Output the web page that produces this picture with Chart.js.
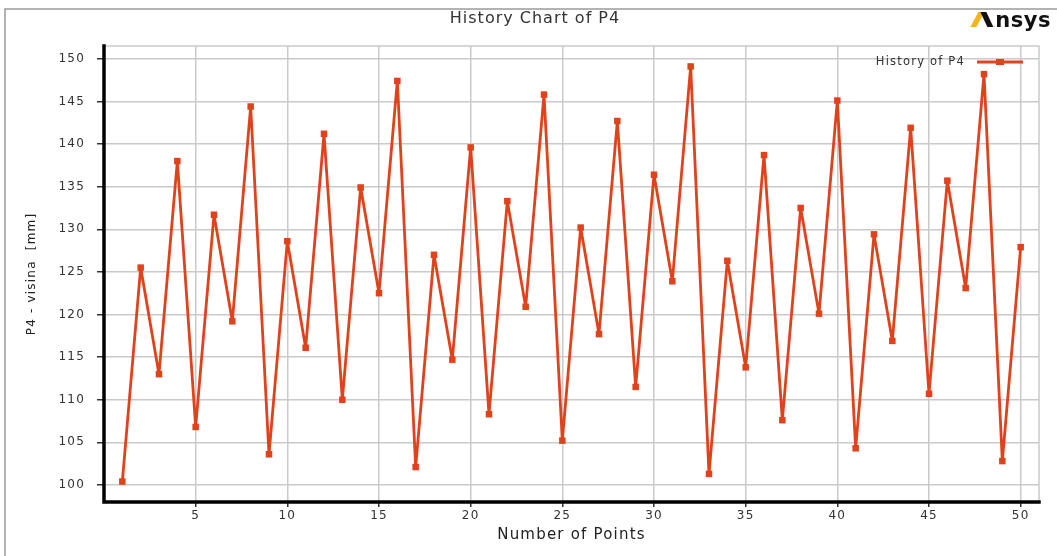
<!DOCTYPE html>
<html>
<head>
<meta charset="utf-8">
<script src="https://cdn.jsdelivr.net/npm/chart.js@4.4.1/dist/chart.umd.min.js"></script>
<style>
  html, body { margin: 0; padding: 0; background: #fff; }
  #wrap { position: relative; width: 1057px; height: 556px; }
</style>
</head>
<body>
<div id="wrap"><canvas id="historyChart"></canvas></div>
<script>
const points = [1, 2, 3, 4, 5, 6, 7, 8, 9, 10, 11, 12, 13, 14, 15, 16, 17, 18, 19, 20,
  21, 22, 23, 24, 25, 26, 27, 28, 29, 30, 31, 32, 33, 34, 35, 36, 37, 38, 39, 40,
  41, 42, 43, 44, 45, 46, 47, 48, 49, 50];
const p4Values = [100.4, 125.5, 113.0, 138.0, 106.8, 131.7, 119.2, 144.4, 103.6, 128.6,
  116.1, 141.2, 110.0, 134.9, 122.5, 147.4, 102.1, 127.0, 114.7, 139.6,
  108.3, 133.3, 120.9, 145.8, 105.2, 130.2, 117.7, 142.7, 111.5, 136.4,
  123.9, 149.1, 101.3, 126.3, 113.8, 138.7, 107.6, 132.5, 120.1, 145.1,
  104.3, 129.4, 116.9, 141.9, 110.7, 135.7, 123.1, 148.2, 102.8, 127.9];
const xTicks = [5, 10, 15, 20, 25, 30, 35, 40, 45, 50];
const yTicks = [100, 105, 110, 115, 120, 125, 130, 135, 140, 145, 150];

const lineColor = '#e0421b';
const gridColor = '#cacaca';
const tickFont = { family: 'DejaVu Sans', size: 12 };

// the reference text is drawn a bit wide, so space the letters out
const spacing = {
  id: 'spacing',
  beforeUpdate(chart) { chart.ctx.letterSpacing = '1.2px'; },
  beforeDraw(chart) { chart.ctx.letterSpacing = '1.2px'; },
};

// frame, title, logo, legend, axis lines and the grey plot border
const decorations = {
  id: 'decorations',
  beforeDraw(chart) {
    const ctx = chart.ctx;
    ctx.save();
    ctx.fillStyle = '#fff';
    ctx.fillRect(0, 0, chart.width, chart.height);
    ctx.strokeStyle = '#9a9a9a';
    ctx.lineWidth = 1.5;
    ctx.beginPath();
    ctx.moveTo(5, chart.height);
    ctx.lineTo(5, 9);
    ctx.lineTo(chart.width, 9);
    ctx.stroke();
    ctx.restore();
  },
  beforeDatasetsDraw(chart) {
    const { ctx, chartArea: a } = chart;
    ctx.save();
    ctx.strokeStyle = gridColor;
    ctx.lineWidth = 1.5;
    ctx.beginPath();
    ctx.moveTo(a.left, a.top);
    ctx.lineTo(a.right, a.top);
    ctx.lineTo(a.right, a.bottom);
    ctx.stroke();
    ctx.strokeStyle = '#000';
    ctx.lineWidth = 3.5;
    ctx.lineCap = 'square';
    ctx.beginPath();
    ctx.moveTo(a.left, a.top);
    ctx.lineTo(a.left, a.bottom);
    ctx.lineTo(a.right, a.bottom);
    ctx.stroke();
    ctx.restore();
  },
  afterDraw(chart) {
    const ctx = chart.ctx;
    ctx.save();
    // title
    ctx.fillStyle = '#333';
    ctx.letterSpacing = '1px';
    ctx.font = '16px "DejaVu Sans"';
    ctx.textAlign = 'center';
    ctx.textBaseline = 'middle';
    ctx.fillText('History Chart of P4', 535, 19);

    // logo: the word, then its "A" redrawn as the yellow / black strokes
    ctx.letterSpacing = '0.5px';
    ctx.font = 'bold 21px "DejaVu Sans"';
    ctx.textAlign = 'right';
    ctx.textBaseline = 'alphabetic';
    const base = 27;
    ctx.fillStyle = '#111';
    ctx.fillText('Ansys', 1051, base);
    const nsysW = ctx.measureText('nsys').width;
    const ax = 1051 - nsysW;
    ctx.fillStyle = '#fff';
    ctx.fillRect(ax - 26, base - 17, 25, 19);
    const top = base - 15;
    ctx.fillStyle = '#f6b320';
    ctx.beginPath();
    ctx.moveTo(ax - 25, base);
    ctx.lineTo(ax - 19, base);
    ctx.lineTo(ax - 11, top);
    ctx.lineTo(ax - 17, top);
    ctx.closePath();
    ctx.fill();
    ctx.fillStyle = '#111';
    ctx.beginPath();
    ctx.moveTo(ax - 15, top);
    ctx.lineTo(ax - 9, top);
    ctx.lineTo(ax - 2, base);
    ctx.lineTo(ax - 8, base);
    ctx.closePath();
    ctx.fill();

    // legend
    const ly = 62;
    ctx.fillStyle = '#333';
    ctx.letterSpacing = '1.2px';
    ctx.font = '11.5px "DejaVu Sans"';
    ctx.textAlign = 'right';
    ctx.textBaseline = 'middle';
    ctx.fillText(chart.data.datasets[0].label, 965, ly);
    ctx.strokeStyle = lineColor;
    ctx.lineWidth = 3;
    ctx.beginPath();
    ctx.moveTo(977, ly);
    ctx.lineTo(1023, ly);
    ctx.stroke();
    ctx.fillStyle = lineColor;
    ctx.fillRect(996, ly - 3, 8, 6);
    ctx.restore();
  }
};

const chart = new Chart(document.getElementById('historyChart'), {
  type: 'line',
  data: {
    datasets: [
      {
        label: 'History of P4',
        data: points.map((p, i) => ({ x: p, y: p4Values[i] })),
        borderColor: lineColor,
        backgroundColor: lineColor,
        borderWidth: 2.8,
        borderJoinStyle: 'round',
        pointStyle: 'rect',
        pointRadius: 4.6,
        pointBorderWidth: 0,
        tension: 0,
      },
    ],
  },
  options: {
    responsive: true,
    maintainAspectRatio: false,
    animation: false,
    layout: { padding: { top: 46, right: 18, left: 0, bottom: 0 } },
    plugins: {
      legend: { display: false },
      title: { display: false },
      tooltip: { enabled: false },
    },
    scales: {
      x: {
        type: 'linear',
        min: 0,
        max: 51,
        afterBuildTicks: (axis) => { axis.ticks = xTicks.map((v) => ({ value: v })); },
        afterFit: (axis) => { axis.height = 54; },
        grid: { color: gridColor, lineWidth: 1.5, tickColor: '#333', tickLength: 5 },
        border: { display: false },
        ticks: { font: tickFont, color: '#333', padding: 2, maxRotation: 0 },
        title: {
          display: true,
          text: 'Number of Points',
          color: '#222',
          font: { family: 'DejaVu Sans', size: 15 },
          padding: { top: 0, bottom: 12 },
        },
      },
      y: {
        min: 98,
        max: 151.5,
        afterBuildTicks: (axis) => { axis.ticks = yTicks.map((v) => ({ value: v })); },
        afterFit: (axis) => { axis.width = 104; },
        grid: { color: gridColor, lineWidth: 1.5, tickColor: '#333', tickLength: 7 },
        border: { display: false },
        ticks: { font: tickFont, color: '#333', padding: 12 },
        title: {
          display: true,
          text: 'P4 - visina  [mm]',
          color: '#222',
          font: { family: 'DejaVu Sans', size: 12 },
          padding: { top: 25, bottom: 0 },
        },
      },
    },
  },
  plugins: [spacing, decorations],
});
</script>
</body>
</html>
